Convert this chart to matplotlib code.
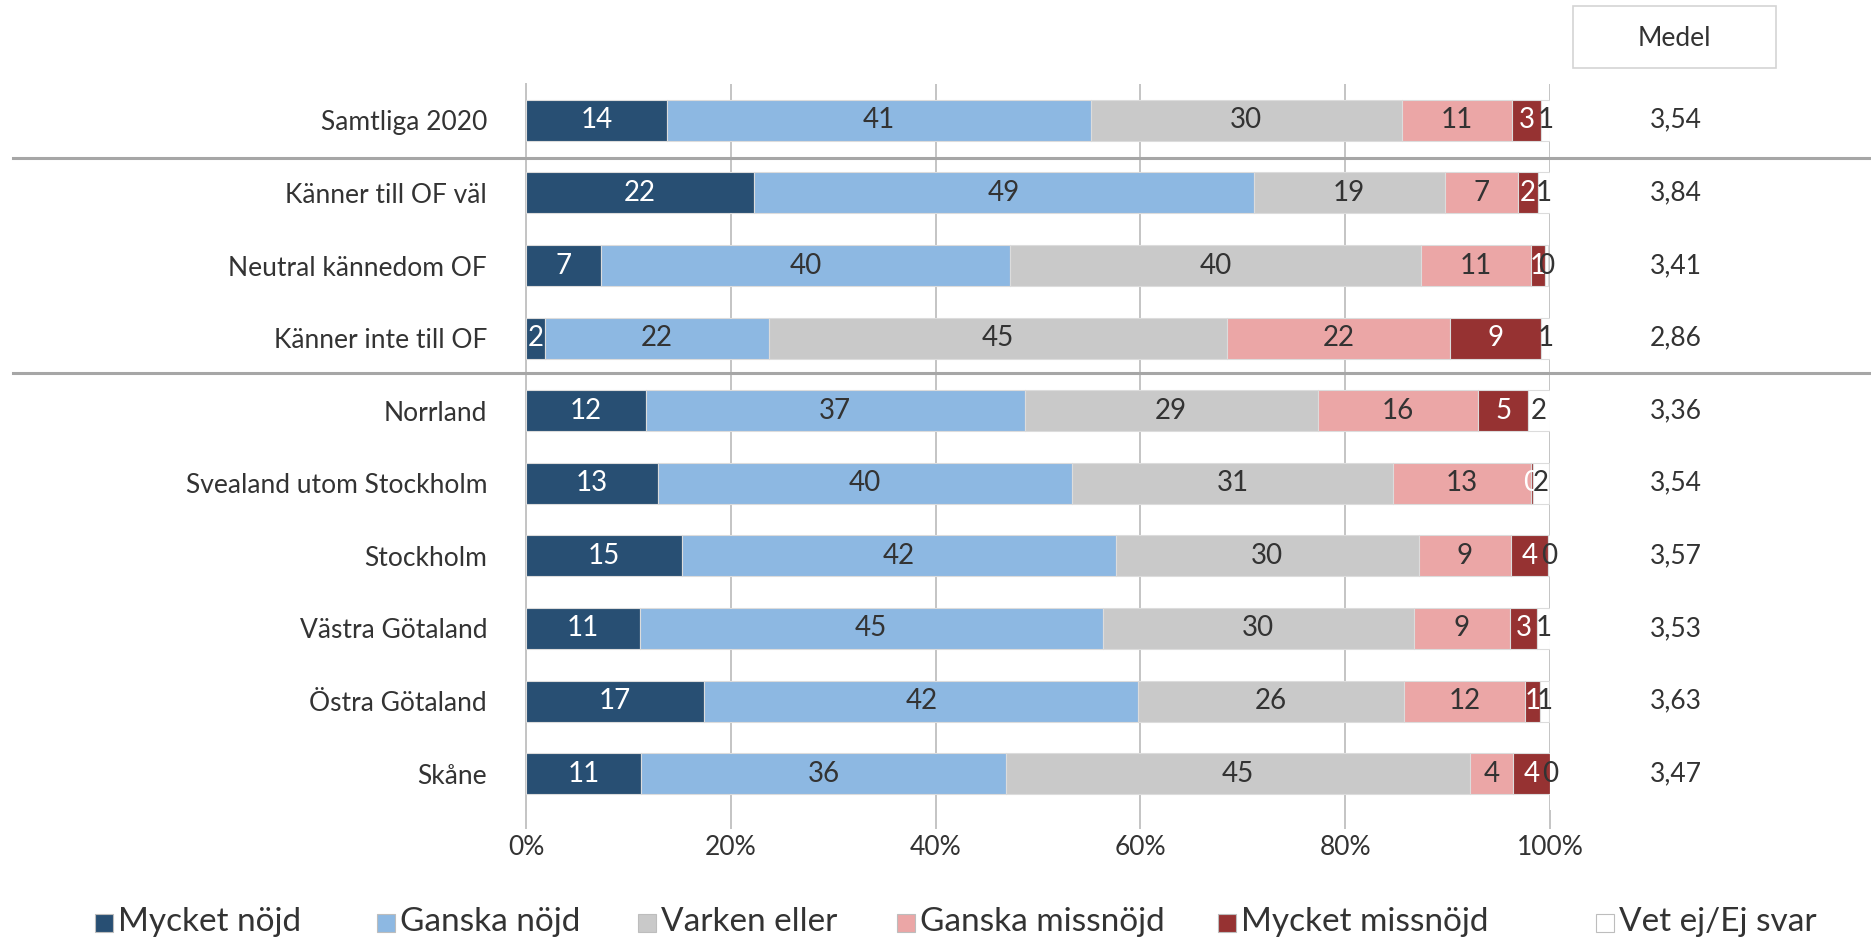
import numpy as np
import matplotlib
matplotlib.use("Agg")
import matplotlib.pyplot as plt
import matplotlib.transforms as mtransforms
from matplotlib.patches import Rectangle
from matplotlib.lines import Line2D

plt.rcParams['font.family'] = ['Lato', 'DejaVu Sans']

categories = ["Samtliga 2020", "Känner till OF väl", "Neutral kännedom OF",
              "Känner inte till OF", "Norrland", "Svealand utom Stockholm",
              "Stockholm", "Västra Götaland", "Östra Götaland", "Skåne"]
series = ["Mycket nöjd", "Ganska nöjd", "Varken eller", "Ganska missnöjd",
          "Mycket missnöjd", "Vet ej/Ej svar"]

mycket_nojd = [13.8, 22.3, 7.3, 1.9, 11.7, 12.9, 15.2, 11.1, 17.4, 11.2]
ganska_nojd = [41.4, 48.8, 40.0, 21.8, 37.0, 40.4, 42.4, 45.2, 42.4, 35.7]
varken_eller = [30.3, 18.6, 40.1, 44.8, 28.6, 31.4, 29.6, 30.4, 25.9, 45.3]
ganska_missnojd = [10.8, 7.2, 10.7, 21.7, 15.7, 13.4, 9.0, 9.4, 11.9, 4.2]
mycket_missnojd = [2.8, 1.9, 1.4, 8.9, 4.9, 0.2, 3.6, 2.6, 1.4, 3.6]
vet_ej = [0.9, 1.2, 0.3, 0.9, 2.1, 1.6, 0.2, 1.3, 0.9, 0.0]
medel = ["3,54", "3,84", "3,41", "2,86", "3,36", "3,54", "3,57", "3,53", "3,63", "3,47"]

values = [mycket_nojd, ganska_nojd, varken_eller, ganska_missnojd, mycket_missnojd, vet_ej]
colors = ["#284f73", "#8db8e2", "#c9c9c9", "#eba6a6", "#963232", "#ffffff"]
text_colors = ["white", "#333333", "#333333", "#333333", "white", "#333333"]

W, H = 1871, 943
fig = plt.figure(figsize=(W / 100, H / 100), dpi=100)
ax = fig.add_axes([526 / W, 1 - 810 / H, (1550 - 526) / W, (810 - 84) / H])

y = np.arange(len(categories))
left = np.zeros(len(categories))
for vals, col, tcol in zip(values, colors, text_colors):
    vals = np.array(vals)
    ax.barh(y, vals, left=left, height=0.565, color=col, edgecolor="#dcdcdc",
            linewidth=0.8, zorder=3)
    for yi, l, v in zip(y, left, vals):
        ax.text(l + v / 2, yi, str(int(round(v))), ha="center", va="center",
                fontsize=20, color=tcol, zorder=4)
    left += vals

ax.set_xlim(0, 100)
ax.set_ylim(9.5, -0.5)
ax.set_xticks(np.arange(0, 101, 20))
ax.set_xticklabels([f"{t}%" for t in range(0, 101, 20)], fontsize=19, color="#333333")
ax.set_yticks(y)
ax.set_yticklabels(categories, fontsize=19, color="#333333")
ax.tick_params(axis="y", length=0, pad=28)
ax.tick_params(axis="x", length=14, width=1.4, color="#c4c4c4", pad=4)
ax.grid(axis="x", color="#c4c4c4", linewidth=1.4, zorder=0)
ax.set_axisbelow(True)
for s in ["top", "right", "bottom"]:
    ax.spines[s].set_visible(False)
ax.spines["left"].set_color("#c4c4c4")
ax.spines["left"].set_linewidth(1.4)

# medel column
trans = mtransforms.blended_transform_factory(fig.transFigure, ax.transData)
for yi, m in zip(y, medel):
    ax.text(1676 / W, yi, m, fontsize=19, color="#333333", ha="center", va="center",
            transform=trans, clip_on=False)
fig.add_artist(Rectangle((1573 / W, 1 - 68 / H), 203 / W, 62 / H, transform=fig.transFigure,
                         facecolor="white", edgecolor="#d4d4d4", linewidth=1.2))
fig.text(1674 / W, 1 - 38 / H, "Medel", fontsize=19, color="#333333", ha="center", va="center")

# separator lines
for ly in [158, 373]:
    fig.add_artist(Line2D([13 / W, 1], [1 - ly / H, 1 - ly / H], transform=fig.transFigure,
                          color="#a6a6a6", linewidth=2.2))

# legend
leg_x = [95, 377, 638, 897, 1218, 1596]
for lx, name, col in zip(leg_x, series, colors):
    fig.add_artist(Rectangle((lx / W, 1 - 932 / H), 18 / W, 18 / H, transform=fig.transFigure,
                             facecolor=col, edgecolor="#bdbdbd", linewidth=0.8))
    fig.text((lx + 23) / W, 1 - 922 / H, name, fontsize=24, color="#333333",
             ha="left", va="center")

fig.savefig("out.png", dpi=100)
